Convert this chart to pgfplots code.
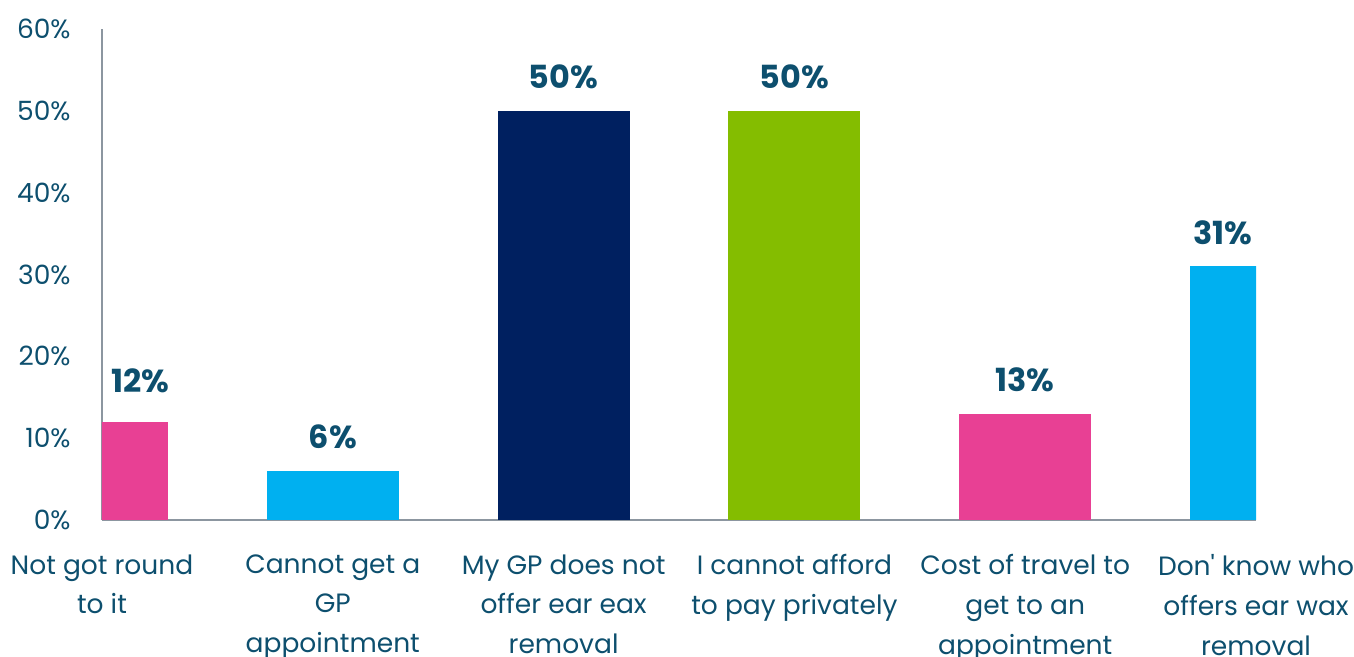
\documentclass[border=0pt]{standalone}
\usepackage{pgfplots}
\pgfplotsset{compat=1.18}
\usepackage{fontspec}
\setmainfont{Poppins}

\definecolor{txt}{RGB}{13,79,110}
\definecolor{axisgray}{RGB}{140,150,160}
\definecolor{cpink}{RGB}{232,64,148}
\definecolor{cblue}{RGB}{0,176,240}
\definecolor{cnavy}{RGB}{0,32,96}
\definecolor{cgreen}{RGB}{132,189,0}

\begin{document}
\begin{tikzpicture}
\path[use as bounding box] (0,0) rectangle (677bp,328.5bp);
\begin{axis}[
  at={(51bp,68.5bp)}, anchor=south west,
  scale only axis, width=577bp, height=245.5bp,
  xmin=0, xmax=5, ymin=0, ymax=60,
  axis x line*=bottom, axis y line*=left,
  axis line style={draw=axisgray, line width=1bp, -},
  ytick={0,10,...,60},
  yticklabel={\pgfmathprintnumber{\tick}\%},
  xtick={0,...,5},
  xticklabels={{Not got round\\to it},{Cannot get a\\GP\\appointment},{My GP does not\\offer ear eax\\removal},{I cannot afford\\to pay privately},{Cost of travel to\\get to an\\appointment},{Don\textquotesingle{} know who\\offers ear wax\\removal}},
  major tick length=0pt,
  tick style={draw=none},
  ticklabel style={font=\fontsize{13.3}{20}\selectfont, text=txt},
  xticklabel style={align=center, anchor=north, inner sep=0pt, yshift=-17bp, execute at begin node=\strut},
  yticklabel style={anchor=east, inner sep=0pt, xshift=-15.5bp},
  /pgf/number format/assume math mode=true,
  ybar, bar width=66bp, bar shift=0pt,
  nodes near coords={\pgfmathprintnumber{\pgfplotspointmeta}\%},
  every node near coord/.append style={anchor=center, yshift=17bp, font=\bfseries\fontsize{16}{18}\selectfont, text=txt},
]
\addplot[fill=cpink, draw=none, every node near coord/.append style={xshift=19bp, yshift=3.5bp}] coordinates {(0,12)};
\addplot[fill=cblue, draw=none] coordinates {(1,6)};
\addplot[fill=cnavy, draw=none] coordinates {(2,50)};
\addplot[fill=cgreen, draw=none] coordinates {(3,50)};
\addplot[fill=cpink, draw=none] coordinates {(4,13)};
\addplot[fill=cblue, draw=none, every node near coord/.append style={xshift=-16.5bp}] coordinates {(5,31)};
\end{axis}
\end{tikzpicture}
\end{document}
